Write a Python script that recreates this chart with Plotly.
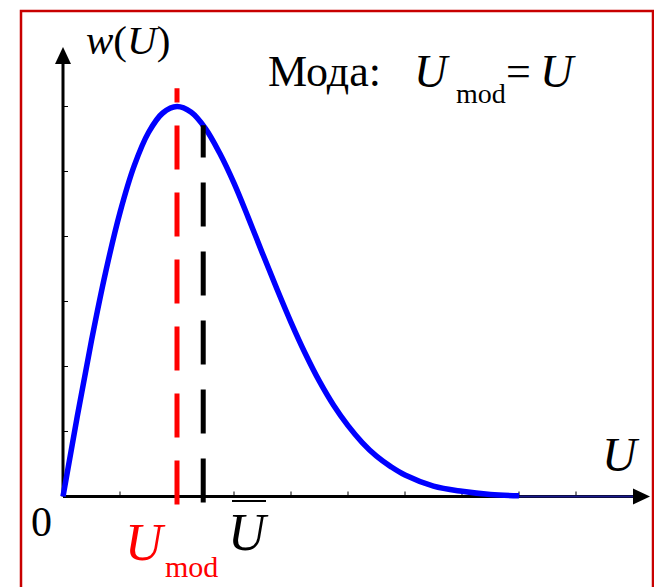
import plotly.graph_objects as go

# ---- data -----------------------------------------------------------
u_vals = [0.0, 0.25, 0.5, 0.75, 1.0, 1.25, 1.5, 1.75, 2.0, 2.25, 2.5, 2.75,
          3.0, 3.25, 3.5, 3.75, 4.0, 4.25, 4.5, 4.75, 5.0, 5.25, 5.5, 5.75,
          6.0, 6.5, 7.0, 7.5, 8.0]
w_vals = [0.0, 1.23, 2.40, 3.46, 4.37, 5.09, 5.60, 5.90, 6.00, 5.91, 5.66, 5.28,
          4.82, 4.29, 3.74, 3.20, 2.68, 2.20, 1.77, 1.40, 1.09, 0.83, 0.62, 0.46,
          0.33, 0.16, 0.08, 0.03, 0.01]
tail_u = [8.0, 10.0]
tail_w = [0.0, 0.0]

u_mode = 2.0
u_mean = 2.46
w_mode_top = 6.28
w_at_mean = 5.71

x_ticks = [1, 2, 3, 4, 5, 6, 7, 8, 9]
y_ticks = [1, 2, 3, 4, 5, 6]

# ---- geometry (pixels) ---------------------------------------------
W, H = 654, 587
X0, Y0 = 63, 496.5          # origin in pixels
SX, SY = 57.0, 65.0         # pixels per data unit
X_TIP, Y_TIP = 650, 47      # arrow tips in pixels

def px(x):
    return x / W

def py(y):
    return 1 - y / H

u_tip = (X_TIP - X0) / SX
w_tip = (Y0 - Y_TIP) / SY
ah_len_u, ah_len_w = 17 / SX, 17 / SY
ah_half_u, ah_half_w = 8 / SX, 8 / SY
tick_u, tick_w = 5 / SX, 5 / SY
below_u = 8 / SY

FONT = "Liberation Serif"

fig = go.Figure()

# distribution curve
fig.add_trace(go.Scatter(x=u_vals, y=w_vals, mode="lines",
                         line=dict(color="#0000ff", width=5.5, shape="spline", smoothing=1.0),
                         hoverinfo="skip"))
fig.add_trace(go.Scatter(x=tail_u, y=tail_w, mode="lines",
                         line=dict(color="#1a1a8c", width=2), hoverinfo="skip"))

# mode and mean markers
fig.add_trace(go.Scatter(x=[u_mode, u_mode], y=[-below_u, w_mode_top], mode="lines",
                         line=dict(color="#ff0000", width=5, dash="44px,23px"),
                         hoverinfo="skip"))
fig.add_trace(go.Scatter(x=[u_mean, u_mean], y=[-6 / SY, w_at_mean], mode="lines",
                         line=dict(color="#000000", width=5, dash="44px,25px"),
                         hoverinfo="skip"))

shapes = []
# axes
shapes.append(dict(type="line", xref="x", yref="y", x0=0, y0=0, x1=u_tip - ah_len_u, y1=0,
                   line=dict(color="black", width=3), layer="below"))
shapes.append(dict(type="line", xref="x", yref="y", x0=0, y0=0, x1=0, y1=w_tip - ah_len_w,
                   line=dict(color="black", width=3), layer="below"))
shapes.append(dict(type="path", xref="x", yref="y", layer="above",
                   path=f"M {u_tip} 0 L {u_tip - ah_len_u} {ah_half_w} L {u_tip - ah_len_u} {-ah_half_w} Z",
                   fillcolor="black", line=dict(width=0)))
shapes.append(dict(type="path", xref="x", yref="y", layer="above",
                   path=f"M 0 {w_tip} L {ah_half_u} {w_tip - ah_len_w} L {-ah_half_u} {w_tip - ah_len_w} Z",
                   fillcolor="black", line=dict(width=0)))
for t in x_ticks:
    shapes.append(dict(type="line", xref="x", yref="y", x0=t, y0=0, x1=t, y1=tick_w,
                       line=dict(color="black", width=1), layer="below"))
for t in y_ticks:
    shapes.append(dict(type="line", xref="x", yref="y", x0=0, y0=t, x1=tick_u, y1=t,
                       line=dict(color="black", width=1), layer="below"))

# overline of the mean symbol
shapes.append(dict(type="line", xref="paper", yref="paper", x0=px(232), x1=px(266),
                   y0=py(501), y1=py(501), line=dict(color="black", width=2)))
# frame
shapes.append(dict(type="rect", xref="paper", yref="paper", x0=px(21), x1=px(653),
                   y0=py(11), y1=py(600), line=dict(color="#c80000", width=2.5)))

def ann(text, x, y, size, color="black", xanchor="left"):
    return dict(text=text, x=px(x), y=py(y), xref="paper", yref="paper",
                xanchor=xanchor, yanchor="middle", showarrow=False,
                font=dict(family=FONT, size=size, color=color))

annotations = [
    ann("<i>w</i>(<i>U</i>)", 84, 40, 41),
    ann("Мода:", 266, 72, 44),
    ann("<i>U</i>", 412, 72, 46),
    ann("mod", 454, 93, 28),
    ann("=", 504, 72, 44),
    ann("<i>U</i>", 538, 72, 46),
    ann("<i>U</i>", 600, 454, 48),
    ann("0", 29, 522, 42),
    ann("<i>U</i>", 123, 542, 52, color="#ff0000"),
    ann("mod", 163, 566, 30, color="#ff0000"),
    ann("<i>U</i>", 226, 532, 52),
]

fig.update_layout(
    width=W, height=H,
    margin=dict(l=0, r=0, t=0, b=0),
    paper_bgcolor="white", plot_bgcolor="white",
    showlegend=False,
    xaxis=dict(range=[-X0 / SX, (W - X0) / SX], visible=False, fixedrange=True),
    yaxis=dict(range=[(Y0 - H) / SY, Y0 / SY], visible=False, fixedrange=True),
    shapes=shapes,
    annotations=annotations,
)

fig.write_html("out.html")
